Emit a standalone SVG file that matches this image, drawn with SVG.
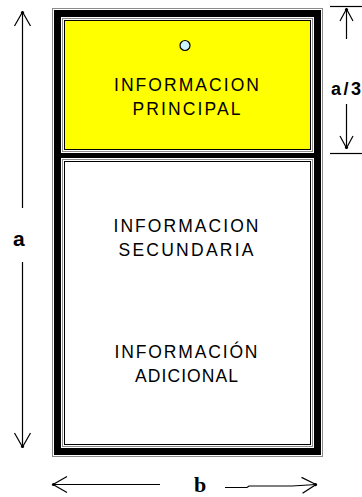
<svg xmlns="http://www.w3.org/2000/svg" width="362" height="497" viewBox="0 0 362 497">
<style>
.lbl{font-family:"Liberation Sans",Arial,sans-serif;font-size:17.5px;fill:#000;text-anchor:middle}
.dim{stroke:#000;stroke-width:1.2;fill:none}
.tick{stroke:#000;stroke-width:1.2}
.bold{font-family:"Liberation Sans",Arial,sans-serif;font-weight:bold;fill:#000}
.gray{fill:none;stroke:#8a8a8a;stroke-width:1}
</style>
<defs>
<marker id="ah" markerUnits="userSpaceOnUse" viewBox="-16 -10 18 20" refX="0" refY="0" markerWidth="18" markerHeight="20" orient="auto">
<path d="M-14,-8 L0,0 L-14,8" fill="none" stroke="#000" stroke-width="1.2"/>
<circle cx="-0.5" cy="0" r="1.6" fill="#000"/>
</marker>
<marker id="ahs" markerUnits="userSpaceOnUse" viewBox="-16 -10 18 20" refX="0" refY="0" markerWidth="18" markerHeight="20" orient="auto">
<path d="M-12,-6.5 L0,0 L-12,6.5" fill="none" stroke="#000" stroke-width="1.2"/>
<circle cx="-0.5" cy="0" r="1.6" fill="#000"/>
</marker>
</defs>
<rect width="362" height="497" fill="#fff"/>

<g id="frame">
<rect x="52.5" y="8.5" width="270" height="448" fill="#fff" stroke="#8a8a8a" stroke-width="1"/>
<rect x="54" y="10" width="267" height="445" fill="#000"/>
</g>

<g id="principal">
<rect x="61" y="17" width="253" height="136" fill="#fff"/>
<rect class="gray" x="62.5" y="18.5" width="250" height="133"/>
<rect x="64.5" y="20.5" width="246" height="129" fill="#ffff00" stroke="#000" stroke-width="1"/>
<circle cx="185" cy="45.5" r="5" fill="#ccf2ff" stroke="#000" stroke-width="1.2"/>
<text class="lbl" x="186.5" y="91" textLength="145" lengthAdjust="spacing">INFORMACION</text>
<text class="lbl" x="186.5" y="115" textLength="108" lengthAdjust="spacing">PRINCIPAL</text>
</g>

<g id="secundaria">
<rect x="61" y="158" width="253" height="290" fill="#fff"/>
<rect class="gray" x="62.5" y="159.5" width="250" height="287"/>
<rect x="64.5" y="161.5" width="246" height="283" fill="#fff" stroke="#000" stroke-width="1"/>
<text class="lbl" x="186" y="232" textLength="145" lengthAdjust="spacing">INFORMACION</text>
<text class="lbl" x="186" y="256" textLength="135" lengthAdjust="spacing">SECUNDARIA</text>
<text class="lbl" x="186" y="358" textLength="143" lengthAdjust="spacing">INFORMACIÓN</text>
<text class="lbl" x="186.5" y="382" textLength="103" lengthAdjust="spacing">ADICIONAL</text>
</g>

<g id="connectors">
<line class="dim" x1="22.5" y1="208" x2="22.5" y2="12" marker-end="url(#ah)"/>
<line class="dim" x1="22.5" y1="262" x2="22.5" y2="447" marker-end="url(#ah)"/>
<line class="tick" x1="330" y1="6.5" x2="362" y2="6.5"/>
<line class="tick" x1="330" y1="153.5" x2="362" y2="153.5"/>
<line class="dim" x1="346.5" y1="39" x2="346.5" y2="9" marker-end="url(#ahs)"/>
<line class="dim" x1="346.5" y1="104" x2="346.5" y2="148" marker-end="url(#ahs)"/>
<line class="dim" x1="160" y1="484.5" x2="53" y2="484.5" marker-end="url(#ah)"/>
<polyline class="dim" points="225,487.5 247,487.5 249,486 292,486 316,484.5" marker-end="url(#ah)"/>
</g>

<g id="labels">
<text class="bold" x="13" y="246" font-size="21">a</text>
<text class="bold" x="331" y="95" font-size="18" textLength="30" lengthAdjust="spacing">a/3</text>
<text x="194" y="492" font-family="'Liberation Serif','Times New Roman',serif" font-weight="bold" font-size="22" fill="#000">b</text>
</g>
</svg>
